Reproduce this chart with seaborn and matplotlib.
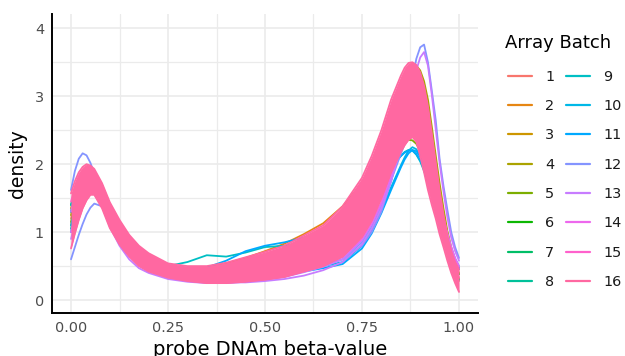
import numpy as np
import pandas as pd
import matplotlib
matplotlib.use("Agg")
import matplotlib.pyplot as plt
from matplotlib.lines import Line2D
import seaborn as sns

# ---------------- data ----------------
beta_grid = [0.00, 0.01, 0.02, 0.03, 0.04, 0.05, 0.06, 0.08, 0.10, 0.125, 0.15, 0.175,
             0.20, 0.25, 0.30, 0.35, 0.40, 0.45, 0.50, 0.55, 0.60, 0.65, 0.70, 0.75,
             0.775, 0.80, 0.825, 0.85, 0.86, 0.87, 0.88, 0.89, 0.90, 0.91, 0.92, 0.93,
             0.94, 0.95, 0.96, 0.97, 0.98, 0.99, 1.00]

batch_labels = [str(i) for i in range(1, 17)]

batch01_a = [1.20,1.45,1.63,1.75,1.80,1.79,1.73,1.54,1.27,1.00,0.79,0.64,0.55,0.43,0.38,0.36,0.38,0.43,0.49,0.56,0.66,0.79,0.98,1.33,1.62,1.98,2.40,2.78,2.90,2.98,3.00,2.93,2.77,2.55,2.27,1.95,1.62,1.30,1.02,0.77,0.56,0.40,0.28]
batch02_a = [1.10,1.35,1.55,1.68,1.74,1.74,1.70,1.55,1.32,1.07,0.86,0.71,0.61,0.50,0.47,0.48,0.54,0.62,0.72,0.83,0.97,1.13,1.38,1.72,1.98,2.25,2.55,2.80,2.88,2.92,2.90,2.82,2.66,2.45,2.20,1.93,1.65,1.38,1.12,0.88,0.68,0.52,0.40]
batch03_a = [1.35,1.58,1.74,1.84,1.88,1.86,1.80,1.60,1.33,1.06,0.84,0.68,0.58,0.46,0.41,0.40,0.43,0.48,0.55,0.63,0.75,0.90,1.12,1.50,1.80,2.18,2.62,3.00,3.12,3.20,3.22,3.15,3.00,2.78,2.48,2.12,1.75,1.40,1.08,0.82,0.60,0.44,0.32]
batch04_a = [1.25,1.50,1.68,1.79,1.84,1.83,1.77,1.58,1.31,1.04,0.82,0.66,0.56,0.44,0.39,0.38,0.40,0.45,0.51,0.59,0.70,0.84,1.05,1.42,1.72,2.10,2.58,3.15,3.30,3.40,3.45,3.45,3.38,3.22,2.95,2.55,2.13,1.72,1.35,1.02,0.78,0.60,0.48]
batch05_a = [1.15,1.40,1.58,1.70,1.76,1.76,1.72,1.55,1.30,1.04,0.83,0.67,0.57,0.45,0.40,0.38,0.40,0.45,0.52,0.60,0.70,0.82,0.98,1.25,1.48,1.75,2.05,2.28,2.33,2.36,2.35,2.30,2.20,2.05,1.87,1.67,1.46,1.25,1.05,0.86,0.70,0.57,0.47]
batch06_a = [1.30,1.52,1.68,1.78,1.82,1.80,1.74,1.55,1.29,1.03,0.82,0.66,0.56,0.45,0.40,0.39,0.42,0.47,0.54,0.62,0.73,0.87,1.07,1.40,1.68,2.02,2.42,2.85,2.98,3.08,3.12,3.08,2.95,2.75,2.48,2.15,1.80,1.46,1.15,0.88,0.66,0.50,0.38]
batch07_a = [1.40,1.62,1.78,1.87,1.91,1.89,1.82,1.62,1.34,1.07,0.85,0.69,0.59,0.47,0.42,0.41,0.44,0.50,0.57,0.66,0.78,0.93,1.15,1.52,1.82,2.20,2.65,3.05,3.18,3.26,3.28,3.22,3.06,2.82,2.50,2.12,1.74,1.38,1.06,0.79,0.57,0.41,0.30]
batch08_a = [1.05,1.30,1.50,1.63,1.70,1.72,1.70,1.57,1.34,1.08,0.86,0.70,0.60,0.48,0.43,0.42,0.45,0.51,0.58,0.67,0.79,0.93,1.12,1.45,1.72,2.05,2.42,2.72,2.80,2.85,2.85,2.80,2.68,2.50,2.27,2.00,1.72,1.44,1.18,0.95,0.75,0.59,0.46]
batch09_a = [1.40,1.58,1.70,1.77,1.79,1.75,1.68,1.50,1.24,0.98,0.78,0.63,0.54,0.50,0.56,0.66,0.64,0.70,0.78,0.80,0.85,0.95,1.10,1.35,1.55,1.75,1.95,2.12,2.18,2.21,2.20,2.14,2.04,1.90,1.73,1.54,1.34,1.14,0.96,0.80,0.66,0.55,0.46]
batch10_a = [1.10,1.35,1.53,1.65,1.71,1.71,1.67,1.51,1.27,1.01,0.80,0.64,0.54,0.42,0.37,0.35,0.36,0.38,0.38,0.40,0.44,0.50,0.56,0.80,1.02,1.32,1.66,1.98,2.10,2.20,2.25,2.22,2.13,1.98,1.80,1.58,1.36,1.15,0.96,0.79,0.65,0.54,0.46]
batch11_a = [1.30,1.52,1.67,1.76,1.79,1.76,1.69,1.50,1.25,0.99,0.79,0.64,0.55,0.46,0.44,0.48,0.58,0.72,0.80,0.85,0.92,1.02,1.15,1.38,1.56,1.76,1.96,2.12,2.17,2.20,2.20,2.15,2.06,1.93,1.77,1.58,1.38,1.18,0.99,0.82,0.67,0.55,0.46]
batch11_b = [1.00,1.25,1.45,1.58,1.65,1.67,1.65,1.52,1.30,1.05,0.84,0.68,0.57,0.44,0.37,0.34,0.33,0.34,0.36,0.38,0.42,0.47,0.53,0.76,0.98,1.28,1.62,1.95,2.07,2.16,2.21,2.19,2.11,1.97,1.79,1.58,1.37,1.16,0.97,0.80,0.66,0.55,0.47]
batch12_a = [1.62,1.90,2.08,2.16,2.13,2.02,1.86,1.52,1.18,0.88,0.66,0.52,0.44,0.36,0.31,0.29,0.29,0.31,0.34,0.38,0.45,0.52,0.60,0.80,1.00,1.30,1.75,2.30,2.60,2.90,3.25,3.55,3.72,3.76,3.50,3.08,2.65,2.08,1.68,1.33,1.00,0.78,0.62]
batch12_b = [0.60,0.78,0.96,1.12,1.26,1.36,1.42,1.38,1.18,0.92,0.70,0.55,0.46,0.36,0.31,0.29,0.29,0.31,0.34,0.38,0.44,0.51,0.60,0.85,1.08,1.38,1.76,2.15,2.30,2.42,2.50,2.50,2.42,2.27,2.07,1.83,1.58,1.34,1.12,0.92,0.75,0.61,0.50]
batch13_a = [1.30,1.55,1.75,1.88,1.93,1.90,1.82,1.58,1.28,0.98,0.74,0.58,0.48,0.36,0.30,0.27,0.26,0.26,0.28,0.31,0.36,0.44,0.56,0.82,1.05,1.35,1.75,2.25,2.50,2.80,3.10,3.38,3.57,3.65,3.45,3.02,2.52,2.02,1.60,1.22,0.92,0.72,0.58]
batch13_b = [0.90,1.12,1.32,1.46,1.55,1.58,1.56,1.38,1.08,0.80,0.60,0.47,0.40,0.31,0.27,0.25,0.25,0.27,0.30,0.34,0.41,0.49,0.60,0.88,1.12,1.42,1.82,2.22,2.36,2.48,2.56,2.58,2.52,2.38,2.18,1.94,1.68,1.43,1.19,0.97,0.78,0.62,0.50]
batch14_a = [1.00,1.24,1.43,1.56,1.63,1.65,1.63,1.47,1.21,0.94,0.72,0.57,0.48,0.37,0.32,0.30,0.30,0.32,0.35,0.39,0.46,0.54,0.63,0.90,1.13,1.44,1.84,2.22,2.38,2.52,2.62,2.65,2.60,2.48,2.28,2.03,1.76,1.48,1.22,0.98,0.77,0.60,0.47]
batch15_a = [1.45,1.66,1.81,1.90,1.94,1.92,1.86,1.66,1.38,1.10,0.88,0.72,0.62,0.49,0.44,0.43,0.47,0.54,0.62,0.71,0.84,0.99,1.22,1.60,1.90,2.30,2.75,3.12,3.25,3.34,3.38,3.33,3.20,2.98,2.68,2.30,1.90,1.52,1.18,0.88,0.64,0.46,0.33]
batch16_top = [1.57,1.75,1.88,1.96,2.00,1.98,1.93,1.72,1.44,1.18,0.96,0.80,0.69,0.54,0.50,0.50,0.55,0.63,0.71,0.80,0.95,1.10,1.38,1.80,2.12,2.50,2.95,3.30,3.42,3.49,3.50,3.46,3.35,3.15,2.85,2.45,2.03,1.62,1.26,0.94,0.72,0.56,0.45]
batch16_bottom = [0.76,0.98,1.18,1.35,1.47,1.55,1.55,1.35,1.06,0.82,0.64,0.50,0.42,0.33,0.28,0.25,0.25,0.27,0.30,0.34,0.42,0.50,0.64,0.93,1.17,1.50,1.88,2.18,2.28,2.36,2.40,2.33,2.12,1.88,1.62,1.40,1.20,0.97,0.78,0.58,0.40,0.25,0.12]

curves = [
    ("1", batch01_a), ("2", batch02_a), ("3", batch03_a), ("4", batch04_a),
    ("5", batch05_a), ("6", batch06_a), ("7", batch07_a), ("8", batch08_a),
    ("9", batch09_a), ("10", batch10_a), ("11", batch11_a), ("11", batch11_b),
    ("12", batch12_a), ("12", batch12_b), ("13", batch13_a), ("13", batch13_b),
    ("14", batch14_a), ("15", batch15_a),
    ("16", batch16_top), ("16", batch16_bottom),
]

# ---------------- ggplot2-like hue palette ----------------
def hcl_to_hex(h, c=100.0, l=65.0):
    hr = np.deg2rad(h)
    U, V = c * np.cos(hr), c * np.sin(hr)
    Xn, Yn, Zn = 95.047, 100.0, 108.883
    den = Xn + 15 * Yn + 3 * Zn
    un, vn = 4 * Xn / den, 9 * Yn / den
    Y = Yn * ((l + 16) / 116) ** 3
    up = U / (13 * l) + un
    vp = V / (13 * l) + vn
    X = 9.0 * Y * up / (4 * vp)
    Z = Y * (12 - 3 * up - 20 * vp) / (4 * vp)
    M = np.array([[3.240479, -1.537150, -0.498535],
                  [-0.969256, 1.875992, 0.041556],
                  [0.055648, -0.204043, 1.057311]])
    rgb = M @ (np.array([X, Y, Z]) / 100.0)
    out = []
    for v in rgb:
        v = 12.92 * v if v <= 0.0031308 else 1.055 * (max(v, 0) ** (1 / 2.4)) - 0.055
        out.append(min(max(v, 0.0), 1.0))
    return "#%02X%02X%02X" % tuple(int(round(x * 255)) for x in out)

hues = [15 + 360.0 / 16 * i for i in range(16)]
palette = {lab: hcl_to_hex(h) for lab, h in zip(batch_labels, hues)}

# ---------------- long table ----------------
rows = []
for k, (lab, vals) in enumerate(curves):
    for b, d in zip(beta_grid, vals):
        rows.append({"beta": b, "density": d, "batch": lab, "sample": k})
df = pd.DataFrame(rows)
df_other = df[df["batch"] != "16"]
df_16 = df[df["batch"] == "16"]

# ---------------- figure ----------------
sns.set_style("white")
plt.rcParams["font.family"] = ["DejaVu Sans"]

fig = plt.figure(figsize=(6.25, 3.56), dpi=100)
ax = fig.add_axes([52 / 625, 1 - 313 / 356, 426 / 625, 299 / 356])

sns.lineplot(data=df_other, x="beta", y="density", hue="batch", units="sample",
             estimator=None, sort=False, palette=palette,
             hue_order=batch_labels[:-1], linewidth=1.3, legend=False, ax=ax)
ax.fill_between(beta_grid, batch16_bottom, batch16_top, color=palette["16"],
                linewidth=0, zorder=2.1)
sns.lineplot(data=df_16, x="beta", y="density", hue="batch", units="sample",
             estimator=None, sort=False, palette={"16": palette["16"]},
             linewidth=1.3, legend=False, ax=ax, zorder=2.2)

ax.set_xlim(-0.049, 1.049)
ax.set_ylim(-0.19, 4.21)
ax.set_xticks([0, 0.25, 0.5, 0.75, 1.0])
ax.set_xticklabels(["0.00", "0.25", "0.50", "0.75", "1.00"])
ax.set_yticks([0, 1, 2, 3, 4])
ax.set_yticklabels(["0", "1", "2", "3", "4"])
ax.set_xticks([0.125, 0.375, 0.625, 0.875], minor=True)
ax.set_yticks([0.5, 1.5, 2.5, 3.5], minor=True)
ax.tick_params(which="minor", length=0)
ax.tick_params(which="major", length=3.3, width=1.0, color="#333333",
               labelcolor="#4D4D4D", labelsize=10.4, pad=2.5)
ax.grid(which="major", color="#EBEBEB", linewidth=1.2)
ax.grid(which="minor", color="#EBEBEB", linewidth=0.9)
ax.set_axisbelow(True)
for s in ["top", "right"]:
    ax.spines[s].set_visible(False)
for s in ["left", "bottom"]:
    ax.spines[s].set_color("black")
    ax.spines[s].set_linewidth(1.4)
ax.set_xlabel("")
ax.set_ylabel("")

fig.text(270.5 / 625, (356 - 355) / 356, "probe DNAm beta-value", ha="center",
         va="baseline", fontsize=14, color="black")
fig.text(17.5 / 625, 1 - 164 / 356, "density", rotation=90, ha="center",
         va="center", fontsize=13.5, color="black")

# ---------------- legend ----------------
fig.text(505 / 625, 1 - 48 / 356, "Array Batch", ha="left", va="baseline",
         fontsize=13, color="black")
for i, lab in enumerate(batch_labels):
    col, row = divmod(i, 8)
    yc = 75.7 + 29.3 * row
    x0, x1, xt = (508, 532, 545) if col == 0 else (566, 590, 603)
    fig.add_artist(Line2D([x0 / 625, x1 / 625], [1 - yc / 356, 1 - yc / 356],
                          color=palette[lab], linewidth=1.6,
                          transform=fig.transFigure))
    fig.text(xt / 625, 1 - (yc + 5.2) / 356, lab, ha="left", va="baseline",
             fontsize=10.4, color="#1A1A1A")

fig.savefig("out.png", dpi=100)
